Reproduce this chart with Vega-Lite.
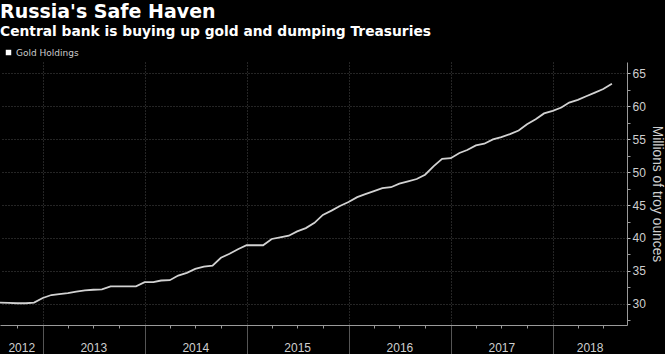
{
  "$schema": "https://vega.github.io/schema/vega-lite/v6.json",
  "width": 627,
  "height": 263,
  "autosize": {"type": "none"},
  "padding": {"left": 0, "top": 62, "right": 38, "bottom": 29},
  "background": "#000000",
  "title": {
    "text": "Russia's Safe Haven",
    "subtitle": "Central bank is buying up gold and dumping Treasuries",
    "anchor": "start",
    "frame": "group",
    "font": "DejaVu Sans",
    "fontSize": 19,
    "fontWeight": "bold",
    "color": "#ffffff",
    "subtitleFont": "DejaVu Sans",
    "subtitleFontSize": 13.8,
    "subtitleFontWeight": "bold",
    "subtitleColor": "#ffffff",
    "subtitlePadding": 3,
    "offset": 9
  },
  "config": {"view": {"stroke": null}},
  "data": {
    "values": [
      {"date": "2012-08-01", "value": 30.2, "series": "Gold Holdings"},
      {"date": "2012-09-01", "value": 30.15, "series": "Gold Holdings"},
      {"date": "2012-10-01", "value": 30.1, "series": "Gold Holdings"},
      {"date": "2012-11-01", "value": 30.1, "series": "Gold Holdings"},
      {"date": "2012-12-01", "value": 30.2, "series": "Gold Holdings"},
      {"date": "2013-01-01", "value": 30.9, "series": "Gold Holdings"},
      {"date": "2013-02-01", "value": 31.35, "series": "Gold Holdings"},
      {"date": "2013-03-01", "value": 31.5, "series": "Gold Holdings"},
      {"date": "2013-04-01", "value": 31.65, "series": "Gold Holdings"},
      {"date": "2013-05-01", "value": 31.85, "series": "Gold Holdings"},
      {"date": "2013-06-01", "value": 32.05, "series": "Gold Holdings"},
      {"date": "2013-07-01", "value": 32.15, "series": "Gold Holdings"},
      {"date": "2013-08-01", "value": 32.2, "series": "Gold Holdings"},
      {"date": "2013-09-01", "value": 32.67, "series": "Gold Holdings"},
      {"date": "2013-10-01", "value": 32.67, "series": "Gold Holdings"},
      {"date": "2013-11-01", "value": 32.67, "series": "Gold Holdings"},
      {"date": "2013-12-01", "value": 32.67, "series": "Gold Holdings"},
      {"date": "2014-01-01", "value": 33.3, "series": "Gold Holdings"},
      {"date": "2014-02-01", "value": 33.3, "series": "Gold Holdings"},
      {"date": "2014-03-01", "value": 33.55, "series": "Gold Holdings"},
      {"date": "2014-04-01", "value": 33.6, "series": "Gold Holdings"},
      {"date": "2014-05-01", "value": 34.3, "series": "Gold Holdings"},
      {"date": "2014-06-01", "value": 34.7, "series": "Gold Holdings"},
      {"date": "2014-07-01", "value": 35.3, "series": "Gold Holdings"},
      {"date": "2014-08-01", "value": 35.65, "series": "Gold Holdings"},
      {"date": "2014-09-01", "value": 35.8, "series": "Gold Holdings"},
      {"date": "2014-10-01", "value": 37.0, "series": "Gold Holdings"},
      {"date": "2014-11-01", "value": 37.6, "series": "Gold Holdings"},
      {"date": "2014-12-01", "value": 38.3, "series": "Gold Holdings"},
      {"date": "2015-01-01", "value": 38.9, "series": "Gold Holdings"},
      {"date": "2015-02-01", "value": 38.9, "series": "Gold Holdings"},
      {"date": "2015-03-01", "value": 38.9, "series": "Gold Holdings"},
      {"date": "2015-04-01", "value": 39.85, "series": "Gold Holdings"},
      {"date": "2015-05-01", "value": 40.1, "series": "Gold Holdings"},
      {"date": "2015-06-01", "value": 40.35, "series": "Gold Holdings"},
      {"date": "2015-07-01", "value": 41.0, "series": "Gold Holdings"},
      {"date": "2015-08-01", "value": 41.5, "series": "Gold Holdings"},
      {"date": "2015-09-01", "value": 42.3, "series": "Gold Holdings"},
      {"date": "2015-10-01", "value": 43.5, "series": "Gold Holdings"},
      {"date": "2015-11-01", "value": 44.15, "series": "Gold Holdings"},
      {"date": "2015-12-01", "value": 44.85, "series": "Gold Holdings"},
      {"date": "2016-01-01", "value": 45.45, "series": "Gold Holdings"},
      {"date": "2016-02-01", "value": 46.2, "series": "Gold Holdings"},
      {"date": "2016-03-01", "value": 46.65, "series": "Gold Holdings"},
      {"date": "2016-04-01", "value": 47.1, "series": "Gold Holdings"},
      {"date": "2016-05-01", "value": 47.55, "series": "Gold Holdings"},
      {"date": "2016-06-01", "value": 47.7, "series": "Gold Holdings"},
      {"date": "2016-07-01", "value": 48.25, "series": "Gold Holdings"},
      {"date": "2016-08-01", "value": 48.6, "series": "Gold Holdings"},
      {"date": "2016-09-01", "value": 48.95, "series": "Gold Holdings"},
      {"date": "2016-10-01", "value": 49.6, "series": "Gold Holdings"},
      {"date": "2016-11-01", "value": 50.9, "series": "Gold Holdings"},
      {"date": "2016-12-01", "value": 52.0, "series": "Gold Holdings"},
      {"date": "2017-01-01", "value": 52.1, "series": "Gold Holdings"},
      {"date": "2017-02-01", "value": 52.9, "series": "Gold Holdings"},
      {"date": "2017-03-01", "value": 53.35, "series": "Gold Holdings"},
      {"date": "2017-04-01", "value": 54.05, "series": "Gold Holdings"},
      {"date": "2017-05-01", "value": 54.3, "series": "Gold Holdings"},
      {"date": "2017-06-01", "value": 54.95, "series": "Gold Holdings"},
      {"date": "2017-07-01", "value": 55.3, "series": "Gold Holdings"},
      {"date": "2017-08-01", "value": 55.75, "series": "Gold Holdings"},
      {"date": "2017-09-01", "value": 56.3, "series": "Gold Holdings"},
      {"date": "2017-10-01", "value": 57.25, "series": "Gold Holdings"},
      {"date": "2017-11-01", "value": 58.0, "series": "Gold Holdings"},
      {"date": "2017-12-01", "value": 58.9, "series": "Gold Holdings"},
      {"date": "2018-01-01", "value": 59.3, "series": "Gold Holdings"},
      {"date": "2018-02-01", "value": 59.8, "series": "Gold Holdings"},
      {"date": "2018-03-01", "value": 60.55, "series": "Gold Holdings"},
      {"date": "2018-04-01", "value": 60.95, "series": "Gold Holdings"},
      {"date": "2018-05-01", "value": 61.5, "series": "Gold Holdings"},
      {"date": "2018-06-01", "value": 62.05, "series": "Gold Holdings"},
      {"date": "2018-07-01", "value": 62.6, "series": "Gold Holdings"},
      {"date": "2018-08-01", "value": 63.4, "series": "Gold Holdings"}
    ]
  },
  "layer": [
    {
      "mark": {"type": "line", "strokeWidth": 1.8},
      "encoding": {
        "x": {
          "field": "date", "type": "temporal",
          "scale": {"type": "utc", "domain": [{"year": 2012, "month": 8, "date": 1, "utc": true}, {"year": 2018, "month": 9, "date": 24, "utc": true}]},
          "axis": {
            "orient": "bottom", "title": null, "labels": false,
            "values": [
              {"year": 2013, "month": 1, "date": 1, "utc": true},
              {"year": 2014, "month": 1, "date": 1, "utc": true},
              {"year": 2015, "month": 1, "date": 1, "utc": true},
              {"year": 2016, "month": 1, "date": 1, "utc": true},
              {"year": 2017, "month": 1, "date": 1, "utc": true},
              {"year": 2018, "month": 1, "date": 1, "utc": true}
            ],
            "tickSize": 29, "tickColor": "#555555", "tickWidth": 1,
            "grid": true, "gridColor": "#4a4a4a", "gridDash": [1, 2], "gridWidth": 1,
            "domainColor": "#9a9a9a", "domainWidth": 1
          }
        },
        "y": {
          "field": "value", "type": "quantitative",
          "scale": {"domain": [26.8, 66.7], "nice": false, "zero": false},
          "axis": {
            "orient": "right",
            "values": [30, 35, 40, 45, 50, 55, 60, 65],
            "title": "Millions of troy ounces",
            "titleColor": "#cfcfcf", "titleFont": "Liberation Sans", "titleFontSize": 13.8, "titleFontWeight": "normal", "titlePadding": 4,
            "labelColor": "#cfcfcf", "labelFont": "Liberation Sans", "labelFontSize": 12, "labelPadding": 2,
            "tickSize": 3, "tickColor": "#bbbbbb",
            "grid": true, "gridColor": "#4a4a4a", "gridDash": [1, 2], "gridWidth": 1,
            "domainColor": "#9a9a9a", "domainWidth": 1
          }
        },
        "color": {
          "field": "series", "type": "nominal",
          "scale": {"range": ["#d2d2d2"]},
          "legend": {
            "orient": "none", "legendX": 4, "legendY": -14, "title": null,
            "padding": 0, "symbolType": "square", "symbolSize": 30, "symbolStrokeWidth": 0,
            "labelFont": "DejaVu Sans", "labelFontSize": 9, "labelColor": "#cccccc", "labelOffset": 3,
            "encode": {"symbols": {"update": {"fill": {"value": "#ffffff"}, "stroke": {"value": "#ffffff"}}}}
          }
        }
      }
    },
    {
      "mark": {"type": "line", "opacity": 0},
      "encoding": {
        "x": {
          "field": "date", "type": "temporal",
          "axis": {
            "orient": "bottom", "title": null, "labels": false, "domain": false, "grid": false,
            "values": [
              {"year": 2012, "month": 10, "date": 1, "utc": true},
              {"year": 2013, "month": 4, "date": 1, "utc": true},
              {"year": 2013, "month": 7, "date": 1, "utc": true},
              {"year": 2013, "month": 10, "date": 1, "utc": true},
              {"year": 2014, "month": 4, "date": 1, "utc": true},
              {"year": 2014, "month": 7, "date": 1, "utc": true},
              {"year": 2014, "month": 10, "date": 1, "utc": true},
              {"year": 2015, "month": 4, "date": 1, "utc": true},
              {"year": 2015, "month": 7, "date": 1, "utc": true},
              {"year": 2015, "month": 10, "date": 1, "utc": true},
              {"year": 2016, "month": 4, "date": 1, "utc": true},
              {"year": 2016, "month": 7, "date": 1, "utc": true},
              {"year": 2016, "month": 10, "date": 1, "utc": true},
              {"year": 2017, "month": 4, "date": 1, "utc": true},
              {"year": 2017, "month": 7, "date": 1, "utc": true},
              {"year": 2017, "month": 10, "date": 1, "utc": true},
              {"year": 2018, "month": 4, "date": 1, "utc": true},
              {"year": 2018, "month": 7, "date": 1, "utc": true}
            ],
            "tickSize": 3, "tickColor": "#9a9a9a"
          }
        },
        "y": {
          "field": "value", "type": "quantitative",
          "axis": {
            "orient": "right", "title": null, "labels": false, "domain": false, "grid": false,
            "values": [27.5, 32.5, 37.5, 42.5, 47.5, 52.5, 57.5, 62.5],
            "tickSize": 3, "tickColor": "#9a9a9a"
          }
        }
      }
    },
    {
      "mark": {"type": "line", "opacity": 0},
      "encoding": {
        "x": {
          "field": "date", "type": "temporal",
          "axis": {
            "orient": "bottom", "title": null, "ticks": false, "domain": false, "grid": false,
            "values": [
              {"year": 2012, "month": 10, "date": 16, "utc": true},
              {"year": 2013, "month": 7, "date": 1, "utc": true},
              {"year": 2014, "month": 7, "date": 1, "utc": true},
              {"year": 2015, "month": 7, "date": 1, "utc": true},
              {"year": 2016, "month": 7, "date": 1, "utc": true},
              {"year": 2017, "month": 7, "date": 1, "utc": true},
              {"year": 2018, "month": 5, "date": 13, "utc": true}
            ],
            "format": "%Y", "labelFlush": false, "labelOverlap": false, "labelBound": false,
            "labelPadding": 17, "labelColor": "#cfcfcf", "labelFont": "Liberation Sans", "labelFontSize": 12
          }
        },
        "y": {"field": "value", "type": "quantitative", "axis": null}
      }
    }
  ],
  "resolve": {"axis": {"x": "independent", "y": "independent"}}
}
